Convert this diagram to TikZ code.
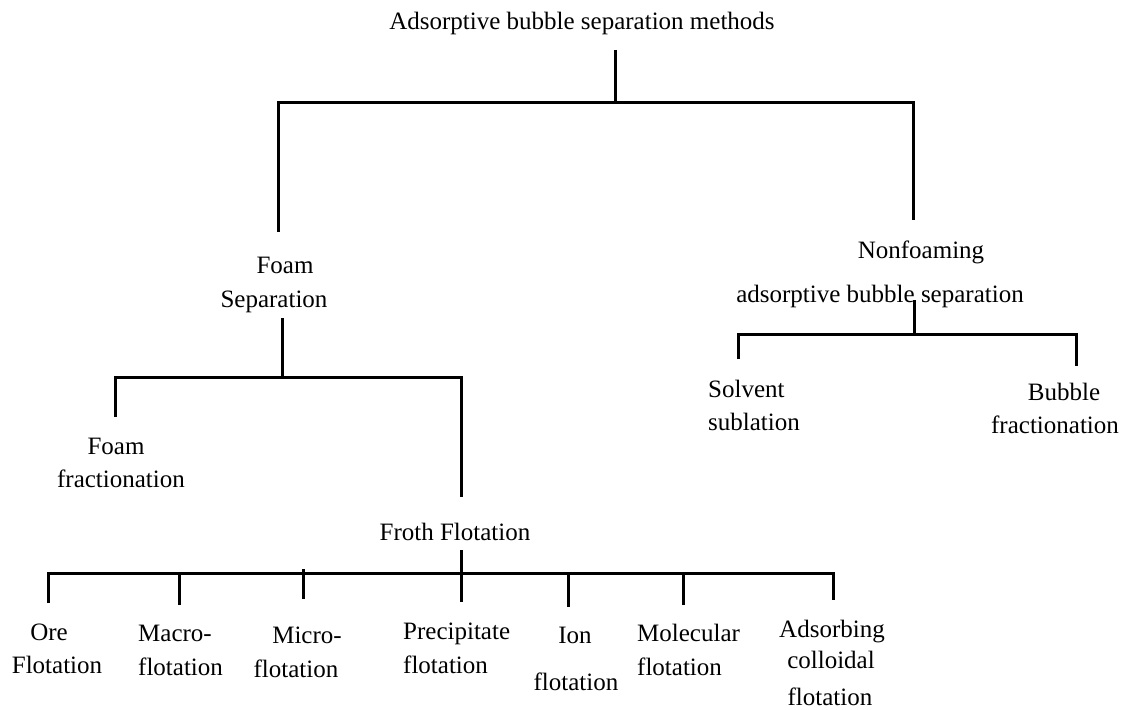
\documentclass[tikz,border=0pt]{standalone}
\usepackage{fontspec}
\setmainfont{Liberation Serif}
\begin{document}
\begin{tikzpicture}[x=1pt,y=-1pt,
  lbl/.style={font=\fontsize{25}{30}\selectfont, inner sep=0pt, anchor=base},
  lblw/.style={lbl, anchor=base west},
  link/.style={line width=3pt, line join=miter}]
\useasboundingbox (0,0) rectangle (1126,709);
% labels
\node[lbl] (title) at (582,30) {Adsorptive bubble separation methods};
\node[lbl] (fs1) at (285,273) {Foam};
\node[lbl] (fs2) at (274,307) {Separation};
\node[lbl] (nf1) at (921,258) {Nonfoaming};
\node[lbl] (nf2) at (880,302) {adsorptive bubble separation};
\node[lbl] (ff1) at (116,454) {Foam};
\node[lbl] (ff2) at (121,487) {fractionation};
\node[lbl] (fr) at (455,540) {Froth Flotation};
\node[lblw] (sv1) at (708,397) {Solvent};
\node[lblw] (sv2) at (708,430) {sublation};
\node[lbl] (bf1) at (1064,400) {Bubble};
\node[lbl] (bf2) at (1055,433) {fractionation};
\node[lbl] (or1) at (49,640) {Ore};
\node[lbl] (or2) at (57,673) {Flotation};
\node[lblw] (ma1) at (138,641) {Macro-};
\node[lblw] (ma2) at (138,675) {flotation};
\node[lbl] (mi1) at (307,643) {Micro-};
\node[lbl] (mi2) at (296,677) {flotation};
\node[lblw] (pr1) at (403,639) {Precipitate};
\node[lblw] (pr2) at (403,673) {flotation};
\node[lbl] (io1) at (575,643) {Ion};
\node[lbl] (io2) at (576,690) {flotation};
\node[lblw] (mo1) at (637,641) {Molecular};
\node[lblw] (mo2) at (637,675) {flotation};
\node[lbl] (ad1) at (832,637) {Adsorbing};
\node[lbl] (ad2) at (831,668) {colloidal};
\node[lbl] (ad3) at (830,705) {flotation};
% connector points
\coordinate (t-a) at (615,50);
\coordinate (t-j) at (615,102);
\coordinate (t-l) at (278,102);
\coordinate (t-r) at (913,102);
\coordinate (fs-top) at (278,232);
\coordinate (nf-top) at (913,220);
\coordinate (fs-a) at (282,318);
\coordinate (fs-j) at (282,377);
\coordinate (fs-l) at (115,377);
\coordinate (fs-r) at (461,377);
\coordinate (ff-top) at (115,417);
\coordinate (fr-top) at (461,497);
\coordinate (nf-a) at (914,300);
\coordinate (nf-j) at (914,334);
\coordinate (nf-l) at (738,334);
\coordinate (nf-r) at (1076,334);
\coordinate (sv-top) at (738,359);
\coordinate (bf-top) at (1076,366);
\coordinate (fr-a) at (461,550);
\coordinate (fr-l) at (48,573);
\coordinate (fr-r) at (833,573);
\coordinate (or-top) at (48,603);
\coordinate (ma-j) at (179,573);
\coordinate (ma-top) at (179,605);
\coordinate (mi-j) at (303,569);
\coordinate (mi-top) at (303,599);
\coordinate (pr-top) at (461,602);
\coordinate (io-j) at (568,573);
\coordinate (io-top) at (568,607);
\coordinate (mo-j) at (683,573);
\coordinate (mo-top) at (683,605);
\coordinate (ad-top) at (833,600);
% connectors
\draw[link] (t-a) -- (t-j);
\draw[link] (fs-top) -- (t-l) -- (t-r) -- (nf-top);
\draw[link] (fs-a) -- (fs-j);
\draw[link] (ff-top) -- (fs-l) -- (fs-r) -- (fr-top);
\draw[link] (nf-a) -- (nf-j);
\draw[link] (sv-top) -- (nf-l) -- (nf-r) -- (bf-top);
\draw[link] (fr-a) -- (pr-top);
\draw[link] (or-top) -- (fr-l) -- (fr-r) -- (ad-top);
\draw[link] (ma-j) -- (ma-top);
\draw[link] (mi-j) -- (mi-top);
\draw[link] (io-j) -- (io-top);
\draw[link] (mo-j) -- (mo-top);
\end{tikzpicture}
\end{document}
